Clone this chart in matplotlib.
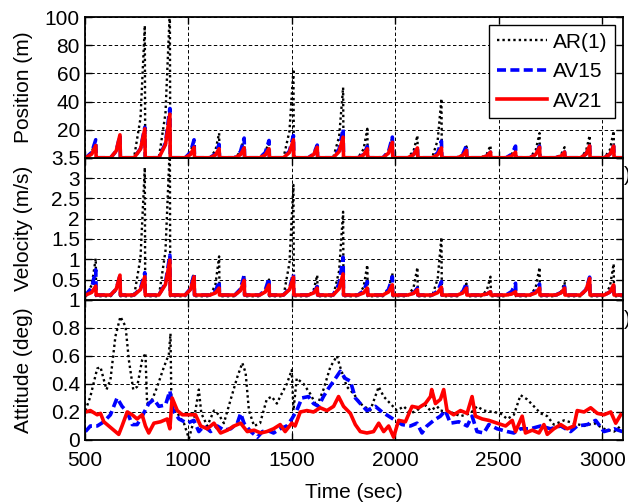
import numpy as np
import matplotlib
matplotlib.use("Agg")
import matplotlib.pyplot as plt

plt.rcParams['font.family'] = ['Liberation Sans', 'DejaVu Sans']

# spike events shared by position / velocity panels (time of ramp start, time of peak)
ramp_start = [505, 625, 738, 858, 985, 1105, 1225, 1345, 1460, 1580, 1700,
              1820, 1940, 2060, 2178, 2300, 2415, 2535, 2650, 2775, 2895, 3010]
spike_t = [553, 670, 790, 911, 1028, 1149, 1270, 1390, 1508, 1623, 1748,
           1865, 1986, 2107, 2223, 2344, 2460, 2581, 2697, 2818, 2939, 3055]

# position peaks (m)
pos_ar = [13, 16, 94, 105, 13, 17.5, 14, 12, 63, 9, 50, 20.6, 14.7, 15.8, 42,
          8, 8.7, 8, 17.5, 7.5, 15.8, 19]
pos_av15 = [12.8, 16, 21.7, 35, 12.8, 9.5, 14, 12.3, 15.8, 9, 20.6, 8, 14.7,
            7.5, 11.8, 8.7, 4, 8.3, 8.3, 4, 8.5, 8.3]
pos_av21 = [8.7, 16.3, 20.6, 31, 7.5, 6.4, 7, 6.4, 12.8, 7.5, 14.7, 6.4, 11,
            7, 7, 5.2, 4, 4, 7.5, 4, 8.5, 8.3]

# velocity peaks (m/s)
vel_ar = [1.02, 0.6, 3.26, 3.8, 0.65, 1.07, 0.61, 0.5, 2.83, 0.61, 2.17, 0.86,
          0.66, 0.8, 1.54, 0.4, 0.57, 0.35, 0.8, 0.43, 0.56, 0.89]
vel_av15 = [0.74, 0.6, 0.67, 1.1, 0.65, 0.45, 0.61, 0.53, 0.64, 0.33, 1.05,
            0.45, 0.57, 0.29, 0.45, 0.41, 0.2, 0.41, 0.39, 0.33, 0.56, 0.37]
vel_av21 = [0.34, 0.61, 0.57, 0.98, 0.57, 0.29, 0.48, 0.37, 0.56, 0.29, 0.64,
            0.29, 0.37, 0.25, 0.31, 0.29, 0.2, 0.2, 0.29, 0.29, 0.53, 0.37]
vel_base = {'AR(1)': 0.09, 'AV15': 0.12, 'AV21': 0.12}

# attitude (deg)
att_ar_t = [503, 527, 560, 576, 592, 605, 624, 648, 672, 697, 713, 734, 753, 777,
            793, 801, 826, 850, 882, 906, 914, 918, 939, 979, 1003, 1027, 1051,
            1063, 1092, 1124, 1148, 1172, 1205, 1237, 1261, 1277, 1293, 1318,
            1347, 1379, 1403, 1428, 1444, 1476, 1500, 1508, 1524, 1557, 1589,
            1621, 1653, 1686, 1718, 1734, 1766, 1799, 1831, 1879, 1920, 1944,
            1976, 2008, 2041, 2073, 2105, 2137, 2170, 2202, 2218, 2266, 2315,
            2363, 2395, 2428, 2476, 2508, 2541, 2573, 2605, 2637, 2670, 2702,
            2734, 2766, 2815, 2863, 2912, 2960, 3008, 3057, 3089]
att_ar = [0.21, 0.31, 0.51, 0.52, 0.43, 0.36, 0.43, 0.74, 0.88, 0.81, 0.57, 0.36,
          0.38, 0.57, 0.62, 0.26, 0.29, 0.38, 0.52, 0.61, 0.76, 0.31, 0.21, 0.12,
          0.01, 0.14, 0.36, 0.19, 0.10, 0.21, 0.18, 0.12, 0.29, 0.45, 0.55, 0.48,
          0.21, 0.10, 0.12, 0.29, 0.31, 0.26, 0.31, 0.40, 0.50, 0.21, 0.44, 0.40,
          0.33, 0.24, 0.36, 0.52, 0.60, 0.52, 0.38, 0.33, 0.26, 0.21, 0.38, 0.31,
          0.26, 0.21, 0.24, 0.19, 0.21, 0.26, 0.21, 0.24, 0.21, 0.20, 0.17, 0.19,
          0.24, 0.21, 0.20, 0.19, 0.15, 0.18, 0.32, 0.29, 0.24, 0.19, 0.17, 0.11,
          0.14, 0.12, 0.10, 0.12, 0.08, 0.06, 0.10]

att_av15_t = [503, 527, 560, 592, 624, 656, 680, 705, 729, 753, 777, 809, 834, 858,
              890, 911, 927, 955, 995, 1027, 1051, 1076, 1108, 1140, 1172, 1205,
              1237, 1253, 1269, 1302, 1334, 1358, 1379, 1412, 1444, 1476, 1500,
              1524, 1549, 1581, 1605, 1629, 1653, 1678, 1702, 1734, 1758, 1783,
              1807, 1831, 1863, 1904, 1936, 1968, 2000, 2033, 2073, 2105, 2129,
              2153, 2186, 2218, 2242, 2266, 2307, 2347, 2371, 2395, 2428, 2452,
              2492, 2541, 2573, 2605, 2653, 2702, 2750, 2799, 2847, 2879, 2928,
              2968, 3008, 3057, 3097]
att_av15 = [0.06, 0.10, 0.10, 0.13, 0.18, 0.30, 0.24, 0.20, 0.11, 0.11, 0.17, 0.26,
            0.29, 0.24, 0.25, 0.35, 0.21, 0.15, 0.12, 0.14, 0.06, 0.10, 0.06, 0.10,
            0.07, 0.08, 0.12, 0.19, 0.12, 0.06, 0.02, 0.06, 0.07, 0.05, 0.08, 0.10,
            0.15, 0.21, 0.30, 0.31, 0.26, 0.24, 0.31, 0.37, 0.42, 0.49, 0.44, 0.42,
            0.30, 0.26, 0.21, 0.24, 0.20, 0.17, 0.14, 0.11, 0.10, 0.12, 0.05, 0.10,
            0.14, 0.17, 0.21, 0.12, 0.13, 0.10, 0.17, 0.06, 0.05, 0.11, 0.08, 0.06,
            0.05, 0.08, 0.08, 0.10, 0.08, 0.10, 0.06, 0.10, 0.11, 0.14, 0.06, 0.08,
            0.06]

att_av21_t = [503, 527, 560, 576, 592, 616, 640, 664, 680, 705, 729, 753, 777, 793,
              809, 834, 866, 898, 911, 922, 947, 971, 1003, 1035, 1060, 1092, 1124,
              1156, 1189, 1221, 1253, 1285, 1318, 1350, 1379, 1412, 1444, 1468,
              1500, 1516, 1541, 1573, 1605, 1637, 1670, 1702, 1726, 1750, 1783,
              1807, 1831, 1863, 1895, 1920, 1944, 1968, 1992, 2016, 2049, 2081,
              2113, 2145, 2170, 2176, 2194, 2218, 2234, 2250, 2282, 2315, 2347,
              2371, 2387, 2420, 2452, 2492, 2533, 2565, 2581, 2613, 2629, 2662,
              2694, 2718, 2734, 2766, 2799, 2831, 2863, 2879, 2912, 2944, 2976,
              3008, 3041, 3065, 3089]
att_av21 = [0.20, 0.21, 0.18, 0.19, 0.13, 0.10, 0.07, 0.04, 0.10, 0.20, 0.18, 0.15,
            0.18, 0.10, 0.05, 0.12, 0.13, 0.15, 0.08, 0.30, 0.21, 0.18, 0.18, 0.18,
            0.10, 0.08, 0.12, 0.05, 0.07, 0.10, 0.12, 0.06, 0.07, 0.05, 0.06, 0.08,
            0.11, 0.06, 0.12, 0.10, 0.20, 0.21, 0.20, 0.23, 0.21, 0.24, 0.31, 0.24,
            0.19, 0.11, 0.06, 0.05, 0.06, 0.12, 0.06, 0.10, 0.02, 0.14, 0.13, 0.24,
            0.23, 0.26, 0.31, 0.36, 0.26, 0.29, 0.36, 0.21, 0.18, 0.21, 0.19, 0.31,
            0.17, 0.15, 0.14, 0.12, 0.10, 0.14, 0.06, 0.17, 0.05, 0.07, 0.05, 0.11,
            0.04, 0.08, 0.11, 0.08, 0.10, 0.21, 0.20, 0.23, 0.19, 0.18, 0.20, 0.12,
            0.18]

x_ticks = [500, 1000, 1500, 2000, 2500, 3000]
names = ['AR(1)', 'AV15', 'AV21']
styles = {'AR(1)': dict(color='black', ls=(0, (1, 1.3)), lw=1.7),
          'AV15': dict(color='#0000ff', ls=(0, (2.5, 1.2)), lw=2.6),
          'AV21': dict(color='#ff0000', ls='-', lw=2.6)}
FS = 15


def sawtooth(heights, base):
    """ramp up from base to each peak, then fall straight back"""
    xs, ys = [500], [base]
    for s, p, h in zip(ramp_start, spike_t, heights):
        xs += [s, s + 0.6 * (p - s), p, p + 2]
        ys += [base, base + 0.3 * (h - base), h, base]
    xs.append(3100)
    ys.append(base)
    return xs, ys


def style_axes(ax):
    ax.set_xlim(500, 3100)
    ax.set_xticks(x_ticks)
    ax.grid(True, color='black', ls=(0, (3.5, 2.5)), lw=0.7)
    ax.tick_params(direction='in', top=True, right=True, labelsize=FS,
                   length=5, width=1)
    ax.tick_params(axis='x', pad=8)
    for sp in ax.spines.values():
        sp.set_linewidth(1.3)
    ax.yaxis.set_label_coords(-0.097, 0.5)


fig = plt.figure(figsize=(6.28, 5.04), dpi=100)
left, width = 0.135, 0.857
ax_att = fig.add_axes([left, 0.127, width, 0.278])
ax_vel = fig.add_axes([left, 0.405, width, 0.282])
ax_pos = fig.add_axes([left, 0.687, width, 0.279])

# position
for nm, hs in zip(names, [pos_ar, pos_av15, pos_av21]):
    xs, ys = sawtooth(hs, 0)
    ax_pos.plot(xs, ys, label=nm, **styles[nm])
ax_pos.set_ylim(0, 100)
ax_pos.set_yticks([0, 20, 40, 60, 80, 100])
ax_pos.set_yticklabels(['', '20', '40', '60', '80', '100'])
ax_pos.set_ylabel('Position (m)', fontsize=FS)
style_axes(ax_pos)
ax_pos.set_xticklabels([])
leg = ax_pos.legend(loc='upper right', fontsize=FS, fancybox=False,
                    framealpha=1, edgecolor='black', handlelength=2.4,
                    borderaxespad=0.4, labelspacing=0.5, handletextpad=0.3,
                    borderpad=0.35)
leg.get_frame().set_linewidth(1.0)

# velocity
for nm, hs in zip(names, [vel_ar, vel_av15, vel_av21]):
    xs, ys = sawtooth(hs, vel_base[nm])
    ax_vel.plot(xs, ys, **styles[nm])
ax_vel.set_ylim(0, 3.5)
ax_vel.set_yticks(np.arange(0, 3.51, 0.5))
ax_vel.set_yticklabels(['', '0.5', '1', '1.5', '2', '2.5', '3', '3.5'])
ax_vel.set_ylabel('Velocity (m/s)', fontsize=FS)
style_axes(ax_vel)
ax_vel.set_xticklabels([])

# attitude
for nm, ts, vs in zip(names, [att_ar_t, att_av15_t, att_av21_t],
                      [att_ar, att_av15, att_av21]):
    ax_att.plot(ts, vs, **styles[nm])
ax_att.set_ylim(0, 1)
ax_att.set_yticks([0, 0.2, 0.4, 0.6, 0.8, 1])
ax_att.set_yticklabels(['0', '0.2', '0.4', '0.6', '0.8', '1'])
ax_att.set_ylabel('Attitude (deg)', fontsize=FS)
ax_att.set_xlabel('Time (sec)', fontsize=FS, labelpad=9)
style_axes(ax_att)

# clipped bits of text at the right edge of the original figure
fig.text(0.993, 0.652, ')', fontsize=FS, ha='left', va='center')
fig.text(0.993, 0.367, ')', fontsize=FS, ha='left', va='center')

fig.savefig('out.png', dpi=100)
